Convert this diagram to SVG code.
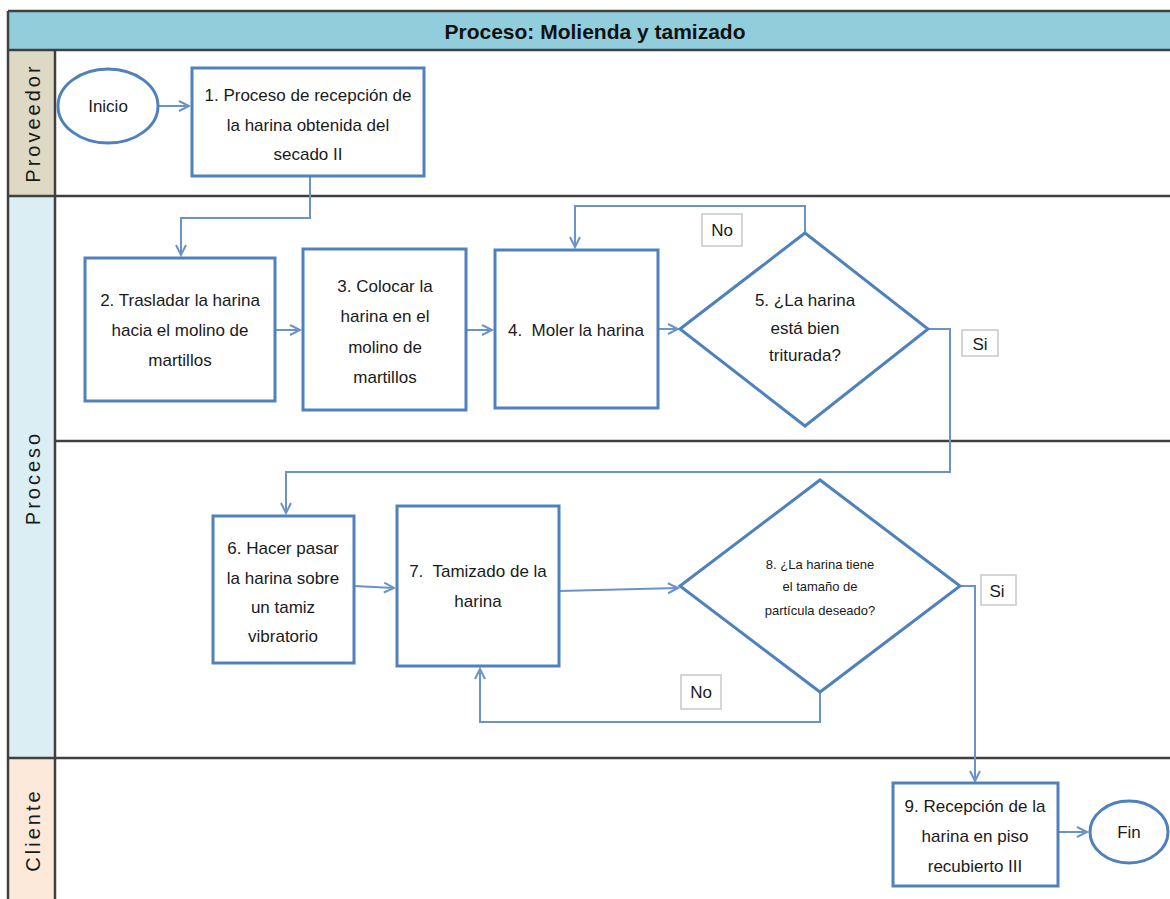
<svg xmlns="http://www.w3.org/2000/svg" width="1170" height="899" viewBox="0 0 1170 899">
<style>
.t{font-family:"Liberation Sans Narrow","Liberation Sans",Arial,sans-serif;font-size:17px;fill:#1a1a1a;text-anchor:middle}
.sm{font-size:13px}
.lane{font-family:"Liberation Sans","DejaVu Sans",sans-serif;font-size:20px;letter-spacing:3px;fill:#1a1a1a;text-anchor:middle}
.box{fill:#fff;stroke:#4F81BD;stroke-width:3}
.lbl{fill:#fff;stroke:#C8C8C8;stroke-width:1.5}
.c{fill:none;stroke:#6B93C9;stroke-width:2}
.ln{stroke:#404040;stroke-width:2.5}
</style>
<defs>
<marker id="a" markerUnits="userSpaceOnUse" markerWidth="14" markerHeight="14" refX="11" refY="6" orient="auto">
<path d="M1,1 L11,6 L1,11" fill="none" stroke="#6B93C9" stroke-width="2"/>
</marker>
</defs>
<rect width="1170" height="899" fill="#fff"/>
<g id="lanes">
<rect x="8" y="11" width="1162" height="39" fill="#92CDDC"/>
<rect x="8" y="50" width="47" height="146" fill="#DDD9C4"/>
<rect x="8" y="196" width="47" height="562" fill="#DAEEF3"/>
<rect x="8" y="758" width="47" height="141" fill="#FDE9D9"/>
<line class="ln" x1="8" y1="11" x2="1170" y2="11"/>
<line class="ln" x1="8" y1="50" x2="1170" y2="50"/>
<line class="ln" x1="8" y1="196" x2="1170" y2="196"/>
<line class="ln" x1="55" y1="441" x2="1170" y2="441"/>
<line class="ln" x1="8" y1="758" x2="1170" y2="758"/>
<line class="ln" x1="8" y1="11" x2="8" y2="899"/>
<line class="ln" x1="55" y1="50" x2="55" y2="899"/>
<text x="595" y="39" style="font-family:'Liberation Sans Narrow','Liberation Sans',sans-serif;font-size:21px;font-weight:bold;text-anchor:middle;fill:#111">Proceso: Molienda y tamizado</text>
<text class="lane" transform="translate(40,123) rotate(-90)">Proveedor</text>
<text class="lane" transform="translate(40,478) rotate(-90)">Proceso</text>
<text class="lane" transform="translate(40,830) rotate(-90)">Cliente</text>
</g>
<g id="connectors">
<line class="c" x1="158" y1="106" x2="189" y2="106" marker-end="url(#a)"/>
<polyline class="c" points="310,176 310,218 181,218 181,255" marker-end="url(#a)"/>
<line class="c" x1="275" y1="330" x2="300" y2="330" marker-end="url(#a)"/>
<line class="c" x1="466" y1="330" x2="492" y2="330" marker-end="url(#a)"/>
<line class="c" x1="658" y1="329" x2="678" y2="329" marker-end="url(#a)"/>
<polyline class="c" points="805,233 805,206 575,206 575,247" marker-end="url(#a)"/>
<polyline class="c" points="928,329 950,329 950,472 286,472 286,513" marker-end="url(#a)"/>
<line class="c" x1="354" y1="586" x2="394" y2="588" marker-end="url(#a)"/>
<line class="c" x1="559" y1="591" x2="678" y2="588" marker-end="url(#a)"/>
<polyline class="c" points="960,586 975,586 975,781" marker-end="url(#a)"/>
<polyline class="c" points="820,692 820,722 480,722 480,669" marker-end="url(#a)"/>
<line class="c" x1="1058" y1="832" x2="1087" y2="832" marker-end="url(#a)"/>
</g>
<g id="inicio">
<ellipse cx="108" cy="106" rx="50" ry="37" class="box"/>
<text class="t" x="108" y="112">Inicio</text>
</g>
<g id="n1">
<rect x="192" y="68" width="232" height="108" class="box"/>
<text class="t" x="308" y="101">1. Proceso de recepción de</text>
<text class="t" x="308" y="131">la harina obtenida del</text>
<text class="t" x="308" y="160">secado II</text>
</g>
<g id="n2">
<rect x="85" y="258" width="190" height="143" class="box"/>
<text class="t" x="180" y="306">2. Trasladar la harina</text>
<text class="t" x="180" y="336">hacia el molino de</text>
<text class="t" x="180" y="366">martillos</text>
</g>
<g id="n3">
<rect x="303" y="249" width="163" height="161" class="box"/>
<text class="t" x="385" y="292">3. Colocar la</text>
<text class="t" x="385" y="322">harina en el</text>
<text class="t" x="385" y="353">molino de</text>
<text class="t" x="385" y="383">martillos</text>
</g>
<g id="n4">
<rect x="495" y="250" width="163" height="158" class="box"/>
<text class="t" x="576" y="336" xml:space="preserve">4.  Moler la harina</text>
</g>
<g id="n5">
<polygon points="680,329 805,233 928,329 805,426" class="box"/>
<text class="t" x="805" y="306">5. ¿La harina</text>
<text class="t" x="805" y="334">está bien</text>
<text class="t" x="805" y="361">triturada?</text>
</g>
<g id="lblNo1">
<rect x="702" y="214" width="40" height="32" class="lbl"/>
<text class="t" x="722" y="236">No</text>
</g>
<g id="lblSi1">
<rect x="962" y="330" width="36" height="26" class="lbl"/>
<text class="t" x="980" y="350">Si</text>
</g>
<g id="n6">
<rect x="213" y="516" width="141" height="147" class="box"/>
<text class="t" x="283" y="554">6. Hacer pasar</text>
<text class="t" x="283" y="584">la harina sobre</text>
<text class="t" x="283" y="613">un tamiz</text>
<text class="t" x="283" y="642">vibratorio</text>
</g>
<g id="n7">
<rect x="397" y="506" width="162" height="160" class="box"/>
<text class="t" x="478" y="577" xml:space="preserve">7.  Tamizado de la</text>
<text class="t" x="478" y="607">harina</text>
</g>
<g id="n8">
<polygon points="680,586 820,480 960,586 820,692" class="box"/>
<text class="t sm" x="820" y="569">8. ¿La harina tiene</text>
<text class="t sm" x="820" y="591">el tamaño de</text>
<text class="t sm" x="820" y="615">partícula deseado?</text>
</g>
<g id="lblNo2">
<rect x="681" y="675" width="40" height="34" class="lbl"/>
<text class="t" x="701" y="698">No</text>
</g>
<g id="lblSi2">
<rect x="981" y="575" width="35" height="30" class="lbl"/>
<text class="t" x="997" y="597">Si</text>
</g>
<g id="n9">
<rect x="893" y="783" width="165" height="103" class="box"/>
<text class="t" x="975" y="812">9. Recepción de la</text>
<text class="t" x="975" y="842">harina en piso</text>
<text class="t" x="975" y="872">recubierto III</text>
</g>
<g id="fin">
<ellipse cx="1129" cy="832" rx="39" ry="31" class="box"/>
<text class="t" x="1129" y="838">Fin</text>
</g>
</svg>
